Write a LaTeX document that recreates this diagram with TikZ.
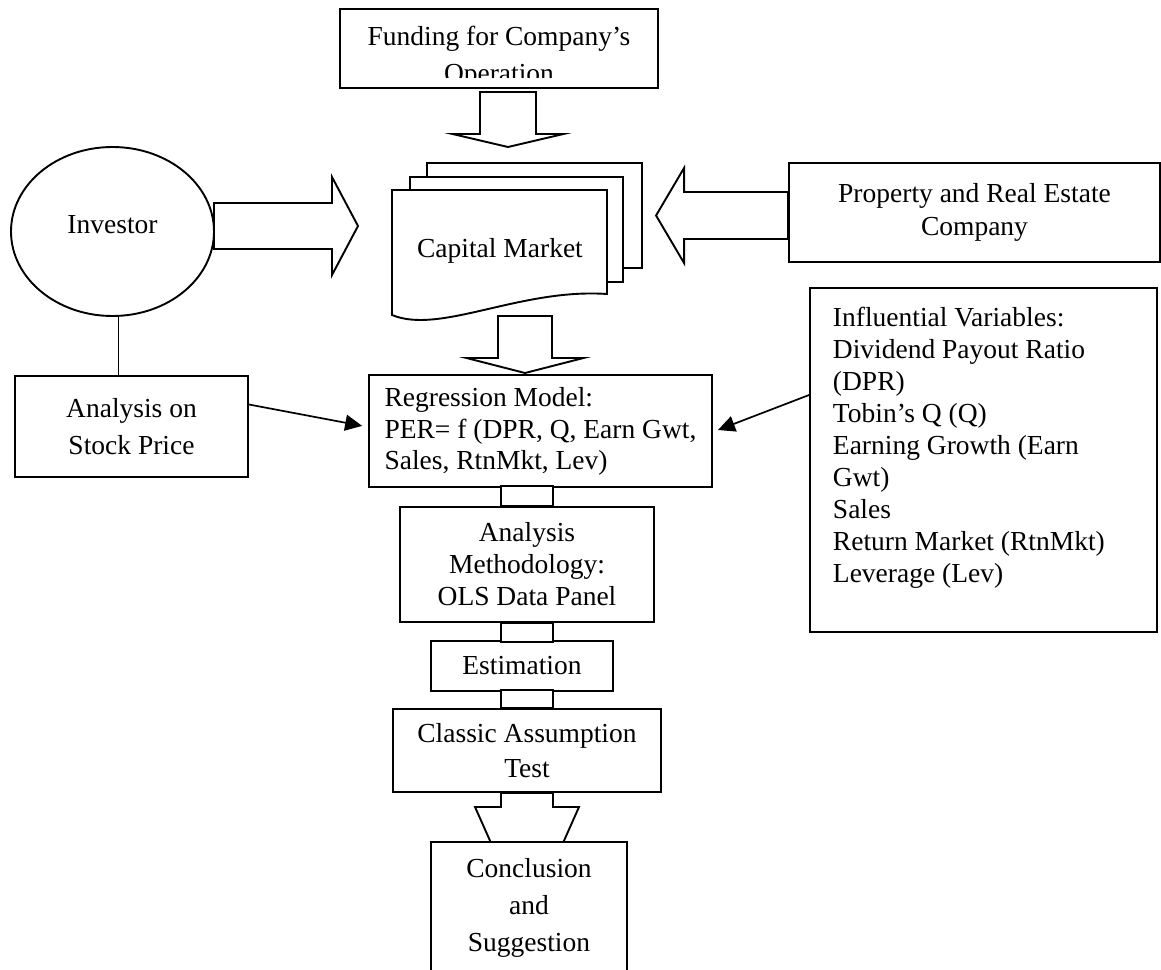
\documentclass[tikz,border=0pt]{standalone}
\usepackage{fontspec}
\setmainfont{Liberation Serif}
\usetikzlibrary{shapes.geometric, arrows.meta, calc, positioning}

\begin{document}
\begin{tikzpicture}
[x=1pt, y=-1pt, line width=1.9pt,
 every node/.style={font=\fontsize{27.5}{32}\selectfont},
 box/.style={draw, rectangle, fill=white, align=center, inner sep=0pt},
 blockarrow/.style={draw, fill=white, line join=miter},
 link/.style={-{Triangle[length=17pt,width=16pt]}, line width=1.7pt}]
\clip (0,0) rectangle (1161,969);

% capital market, three sheets
\draw[fill=white] (427,163) rectangle (642,268);
\draw[fill=white] (410,177) rectangle (623,282);
\draw[fill=white] (392,190) -- (607,190) -- (607,294)
  .. controls (520,288) and (440,335) .. (392,315) -- cycle;
\node (cap) at (500,251) {Capital Market};

% top box, its second line is cut off
\node[box, minimum width=318pt, minimum height=79pt] (fund) at (499,48.5) {};
\begin{scope}
\clip (340,9) rectangle (658,77);
\node[align=center] (fundtxt) at (499,57) {Funding for Company's\\[5pt]Operation};
\end{scope}

\node[draw, ellipse, minimum width=203pt, minimum height=169pt, text depth=15pt] (inv) at (112.5,231.5) {Investor};
\node[box, minimum width=371pt, minimum height=99pt] (prop) at (974.5,212.5) {Property and Real Estate\\[1pt]Company};
\node[box, minimum width=233pt, minimum height=101pt] (ana) at (131.5,426.5) {Analysis on\\[5.5pt]Stock Price};
\node[box, minimum width=343pt, minimum height=112pt, align=left] (reg) at (540.5,431)
  {Regression Model:\\PER= f (DPR, Q, Earn Gwt,\\[-1pt]Sales, RtnMkt, Lev)};
\node[box, minimum width=347pt, minimum height=344pt] (infl) at (983.5,460) {};
\node[anchor=north west, align=left, inner sep=0pt] (inflvars) at (832,306)
  {Influential Variables:\\Dividend Payout Ratio\\(DPR)\\Tobin's Q (Q)\\Earning Growth (Earn\\Gwt)\\Sales\\Return Market (RtnMkt)\\Leverage (Lev)};
\node[box, minimum width=254pt, minimum height=115pt] (meth) at (527,564.5) {Analysis\\Methodology:\\OLS Data Panel};
\node[box, minimum width=182pt, minimum height=50pt] (est) at (522,666) {Estimation};
\node[box, minimum width=268pt, minimum height=83pt] (cls) at (527,750.5) {Classic Assumption\\[3pt]Test};

% thin connectors
\draw[line width=1.9pt] ([xshift=6pt]inv.south) -- ([xshift=6pt]inv.south |- ana.north);
\draw[link, shorten >=6pt] ([yshift=22pt]ana.east) -- ([yshift=4pt]reg.west);
\draw[link] ([yshift=65pt]infl.west) -- ([xshift=5pt,yshift=1pt]reg.east);

% block arrows
\coordinate (fundbot) at (508,92);
\draw[blockarrow] ($(fundbot)+(-28,0)$) -- ++(0,42) -- ++(-27.5,0) -- ++(55.5,13)
  -- ++(55.5,-13) -- ++(-27.5,0) -- ++(0,-42) -- cycle;
\coordinate (capbot) at (525,316);
\draw[blockarrow] ($(capbot)+(-27,0)$) -- ++(0,42) -- ++(-31.5,0) -- ++(58.5,15)
  -- ++(58.5,-15) -- ++(-31.5,0) -- ++(0,-42) -- cycle;
\coordinate (invr) at (214,226);
\draw[blockarrow] ($(invr)+(0,-23)$) -- ++(118,0) -- ++(0,-26) -- ++(26,49)
  -- ++(-26,49) -- ++(0,-26) -- ++(-118,0) -- cycle;
\draw[blockarrow] ($(prop.west)+(0,-20.5)$) -- ++(-104,0) -- ++(0,-24) -- ++(-28,47.5)
  -- ++(28,47.5) -- ++(0,-24) -- ++(104,0) -- cycle;

% shafts between the method boxes
\draw[blockarrow] ($(meth.north)+(-26,0)$) rectangle ($(meth.north)+(26,-20)$);
\draw[blockarrow] ($(meth.south)+(-26,0)$) rectangle ($(meth.south)+(26,19)$);
\draw[blockarrow] ($(cls.north)+(-26,0)$) rectangle ($(cls.north)+(26,-18)$);
\draw[blockarrow] ($(cls.south)+(-26,0)$) -- ++(0,14) -- ++(-26,0) -- ($(cls.south)+(0,131)$)
  -- ($(cls.south)+(52,14)$) -- ++(-26,0) -- ++(0,-14) -- cycle;

\node[box, minimum width=196pt, minimum height=131pt] (conc) at (529,907.5) {Conclusion\\[5pt]and\\[5pt]Suggestion};
\end{tikzpicture}
\end{document}
